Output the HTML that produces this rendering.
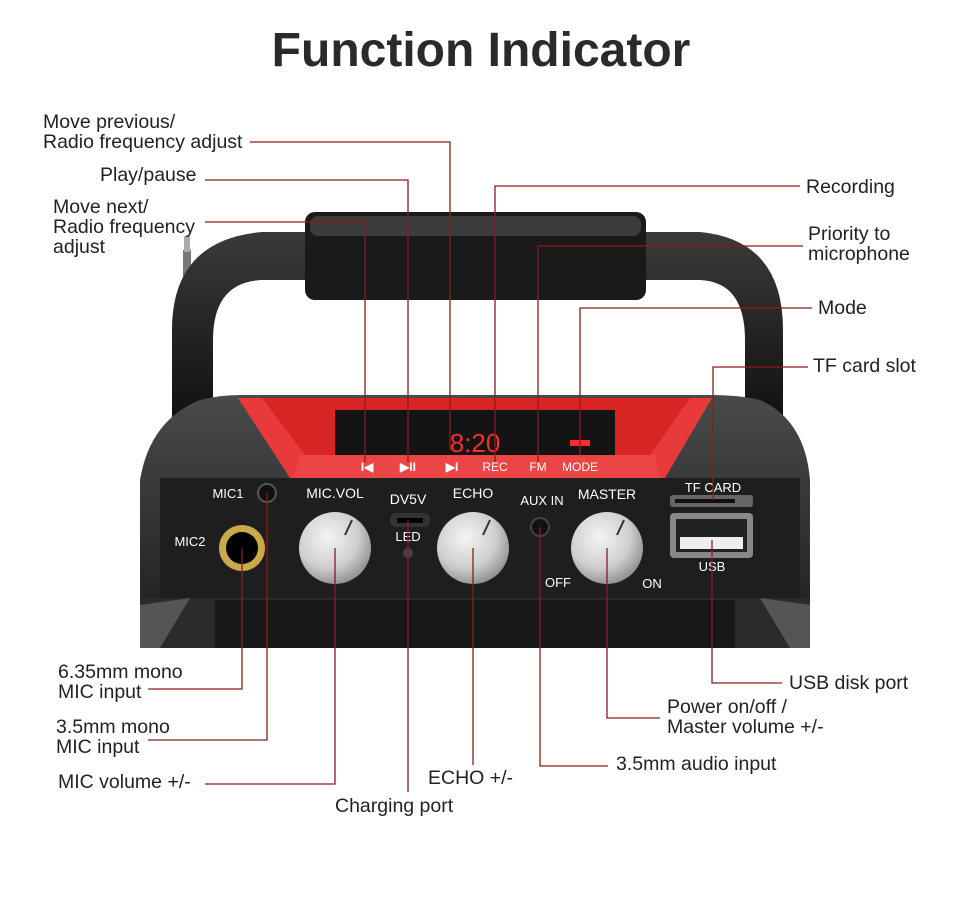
<!DOCTYPE html>
<html><head><meta charset="utf-8"><style>
html,body{margin:0;padding:0;background:#fff;}
svg{display:block}
text{font-family:"Liberation Sans",sans-serif;}
</style></head><body>
<svg width="960" height="898" viewBox="0 0 960 898" xmlns="http://www.w3.org/2000/svg">
<defs>
<radialGradient id="knob" cx="40%" cy="35%" r="70%"><stop offset="0" stop-color="#f4f4f4"/><stop offset="0.6" stop-color="#cfcfcf"/><stop offset="1" stop-color="#8a8a8a"/></radialGradient>
<linearGradient id="body" x1="0" y1="0" x2="0" y2="1"><stop offset="0" stop-color="#4a4a4a"/><stop offset="1" stop-color="#1c1c1c"/></linearGradient>
<linearGradient id="handle" x1="0" y1="0" x2="0" y2="1"><stop offset="0" stop-color="#3a3a3a"/><stop offset="1" stop-color="#111"/></linearGradient>
</defs>
<rect width="960" height="898" fill="#fff"/>
<text x="481" y="66" text-anchor="middle" font-size="48" font-weight="bold" fill="#2a2a2a">Function Indicator</text>

<rect x="183" y="250" width="8" height="60" fill="#777"/>
<rect x="184" y="236" width="6" height="16" fill="#aaa"/>
<path d="M172 420 L172 330 Q172 240 262 232 L700 232 Q783 240 783 330 L783 420 L745 420 L745 340 Q745 282 700 280 L262 280 Q213 282 213 340 L213 420 Z" fill="url(#handle)"/>
<rect x="305" y="212" width="341" height="88" rx="10" fill="#1a1a1a"/>
<rect x="310" y="216" width="331" height="20" rx="8" fill="#3c3c3c"/>

<path d="M140 648 L140 480 Q150 420 200 400 Q220 395 240 395 L710 395 Q740 395 760 400 Q805 420 810 480 L810 648 Z" fill="url(#body)"/>
<path d="M238 398 L712 398 L665 478 L290 478 Z" fill="#e83a3a"/>
<path d="M262 398 L690 398 L650 455 L305 455 Z" fill="#d92424"/>
<rect x="335" y="410" width="280" height="45" fill="#141414"/>
<path d="M300 455 L655 455 L660 478 L293 478 Z" fill="#ec4545"/>
<text x="475" y="452" text-anchor="middle" font-size="26" fill="#ff2a2a" font-family="Liberation Mono,monospace">8:20</text>
<rect x="570" y="440" width="20" height="6" fill="#ff2a2a"/>
<g fill="#fff">
<text x="367" y="471" text-anchor="middle" font-size="12" font-weight="bold">I◀</text>
<text x="408" y="471" text-anchor="middle" font-size="12" font-weight="bold">▶II</text>
<text x="452" y="471" text-anchor="middle" font-size="12" font-weight="bold">▶I</text>
<text x="495" y="471" text-anchor="middle" font-size="12">REC</text>
<text x="538" y="471" text-anchor="middle" font-size="12">FM</text>
<text x="580" y="471" text-anchor="middle" font-size="12">MODE</text>
</g>
<rect x="160" y="478" width="640" height="120" fill="#1e1e1e"/>
<rect x="140" y="598" width="670" height="50" fill="#2b2b2b"/>
<path d="M140 605 L190 598 L160 648 L140 648 Z" fill="#555"/>
<path d="M810 605 L760 598 L790 648 L810 648 Z" fill="#555"/>
<rect x="215" y="600" width="520" height="48" fill="#181818"/>

<g fill="#fff">
<text x="228" y="498" text-anchor="middle" font-size="13">MIC1</text>
<text x="190" y="546" text-anchor="middle" font-size="13">MIC2</text>
<text x="335" y="498" text-anchor="middle" font-size="14">MIC.VOL</text>
<text x="408" y="504" text-anchor="middle" font-size="14">DV5V</text>
<text x="408" y="541" text-anchor="middle" font-size="13">LED</text>
<text x="473" y="498" text-anchor="middle" font-size="14">ECHO</text>
<text x="542" y="505" text-anchor="middle" font-size="13">AUX IN</text>
<text x="607" y="499" text-anchor="middle" font-size="14">MASTER</text>
<text x="558" y="587" text-anchor="middle" font-size="13">OFF</text>
<text x="652" y="588" text-anchor="middle" font-size="13">ON</text>
<text x="713" y="492" text-anchor="middle" font-size="13">TF CARD</text>
<text x="712" y="571" text-anchor="middle" font-size="13">USB</text>
</g>
<circle cx="267" cy="493" r="9" fill="#111" stroke="#555" stroke-width="2"/>
<circle cx="242" cy="548" r="23" fill="#c9a94a"/><circle cx="242" cy="548" r="16" fill="#000"/>
<circle cx="335" cy="548" r="36" fill="url(#knob)"/>
<line x1="345" y1="535" x2="352" y2="520" stroke="#333" stroke-width="2"/>
<rect x="390" y="513" width="40" height="14" rx="6" fill="#333"/><rect x="397" y="518" width="26" height="5" fill="#000"/>
<circle cx="408" cy="553" r="5" fill="#444"/>
<circle cx="473" cy="548" r="36" fill="url(#knob)"/>
<line x1="483" y1="535" x2="490" y2="520" stroke="#333" stroke-width="2"/>
<circle cx="540" cy="527" r="9" fill="#111" stroke="#444" stroke-width="2"/>
<circle cx="607" cy="548" r="36" fill="url(#knob)"/>
<line x1="617" y1="535" x2="624" y2="520" stroke="#333" stroke-width="2"/>
<rect x="670" y="495" width="83" height="12" rx="3" fill="#666"/><rect x="675" y="499" width="60" height="4" fill="#111"/>
<rect x="670" y="513" width="83" height="45" rx="4" fill="#888"/><rect x="676" y="519" width="71" height="33" fill="#222"/><rect x="680" y="537" width="63" height="12" fill="#eee"/>

<g stroke="#8a1c1c" stroke-width="1.3" fill="none">
<polyline points="250,142 450,142 450,450"/>
<polyline points="205,180 408,180 408,462"/>
<polyline points="205,222 365,222 365,462"/>
<polyline points="800,186 495,186 495,462"/>
<polyline points="803,246 538,246 538,462"/>
<polyline points="812,308 580,308 580,455"/>
<polyline points="808,367 713,367 713,500"/>
<polyline points="712,540 712,683 782,683"/>
<polyline points="607,548 607,718 660,718"/>
<polyline points="540,527 540,766 608,766"/>
<polyline points="473,548 473,765"/>
<polyline points="408,520 408,792"/>
<polyline points="335,548 335,784 205,784"/>
<polyline points="267,493 267,740 148,740"/>
<polyline points="242,548 242,689 148,689"/>
</g>

<g font-size="19.5" fill="#222">
<text x="43" y="128">Move previous/</text>
<text x="43" y="148">Radio frequency adjust</text>
<text x="100" y="181">Play/pause</text>
<text x="53" y="213">Move next/</text>
<text x="53" y="233">Radio frequency</text>
<text x="53" y="253">adjust</text>
<text x="806" y="193">Recording</text>
<text x="808" y="240">Priority to</text>
<text x="808" y="260">microphone</text>
<text x="818" y="314">Mode</text>
<text x="813" y="372">TF card slot</text>
<text x="789" y="689">USB disk port</text>
<text x="667" y="713">Power on/off /</text>
<text x="667" y="733">Master volume +/-</text>
<text x="616" y="770">3.5mm audio input</text>
<text x="428" y="784">ECHO +/-</text>
<text x="335" y="812">Charging port</text>
<text x="58" y="788">MIC volume +/-</text>
<text x="56" y="733">3.5mm mono</text>
<text x="56" y="753">MIC input</text>
<text x="58" y="678">6.35mm mono</text>
<text x="58" y="698">MIC input</text>
</g>
</svg>
</body></html>
